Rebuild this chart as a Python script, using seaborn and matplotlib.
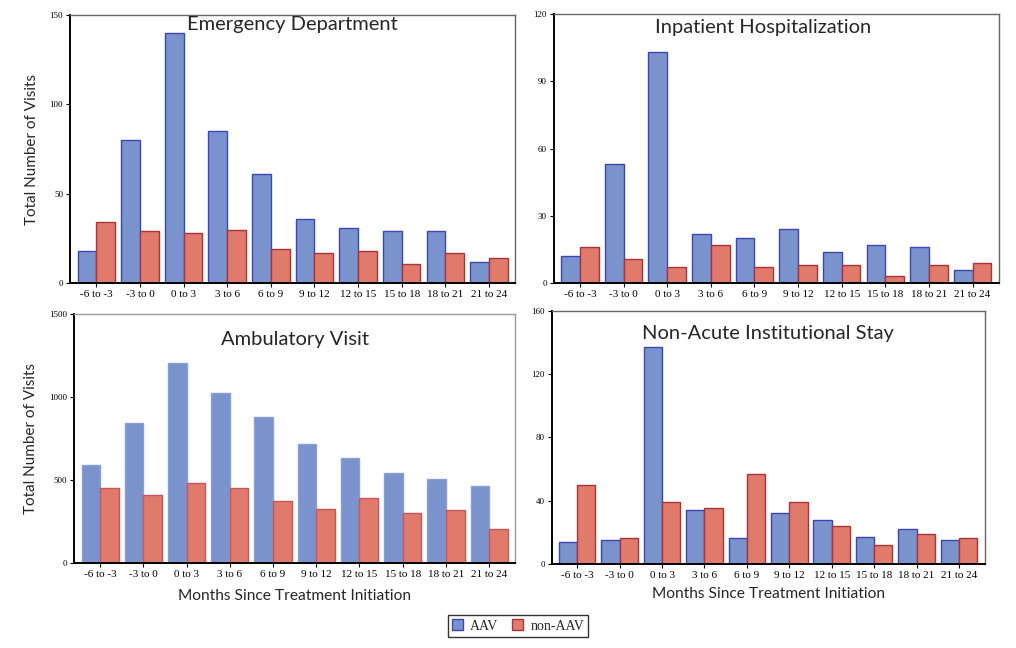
import matplotlib
matplotlib.use("Agg")
import matplotlib.pyplot as plt
import pandas as pd
import seaborn as sns
from matplotlib.patches import Patch

periods = ["-6 to -3", "-3 to 0", "0 to 3", "3 to 6", "6 to 9",
           "9 to 12", "12 to 15", "15 to 18", "18 to 21", "21 to 24"]
groups = ["AAV", "non-AAV"]

ed_aav = [18, 80, 140, 85, 61, 36, 31, 29, 29, 12]
ed_non = [34, 29, 28, 30, 19, 17, 18, 11, 17, 14]
ih_aav = [12, 53, 103, 22, 20, 24, 14, 17, 16, 6]
ih_non = [16, 11, 7, 17, 7, 8, 8, 3, 8, 9]
av_aav = [593, 846, 1208, 1027, 880, 717, 632, 546, 507, 463]
av_non = [452, 410, 483, 454, 375, 324, 391, 300, 318, 208]
na_aav = [14, 15, 137, 34, 16, 32, 28, 17, 22, 15]
na_non = [50, 16, 39, 35, 57, 39, 24, 12, 19, 16]

panels = [
    ("Emergency Department", ed_aav, ed_non, [0, 50, 100, 150], 150),
    ("Inpatient Hospitalization", ih_aav, ih_non, [0, 30, 60, 90, 120], 120),
    ("Ambulatory Visit", av_aav, av_non, [0, 500, 1000, 1500], 1500),
    ("Non-Acute Institutional Stay", na_aav, na_non, [0, 40, 80, 120, 160], 160),
]

# axes rectangles in figure fraction (composite layout)
rects = [
    [0.069, 0.563, 0.438, 0.414],
    [0.545, 0.563, 0.438, 0.415],
    [0.073, 0.131, 0.434, 0.384],
    [0.543, 0.130, 0.426, 0.390],
]
title_y = [0.966, 0.952, 0.90, 0.913]
title_x = [0.5, 0.47, 0.5, 0.5]
xlabel_pad = [3, 3, 7, 5]

fill = {"AAV": "#7b93cd", "non-AAV": "#e07a6b"}
edge = {"AAV": "#3b45b5", "non-AAV": "#a8343a"}
# the ambulatory panel has soft edges in the source
edge_soft = {"AAV": "#8a9fd6", "non-AAV": "#c8555a"}

sns.set_style("white")
plt.rcParams["font.family"] = ["Lato", "DejaVu Sans"]

fig = plt.figure(figsize=(10.16, 6.48), dpi=100)

for i, (title, aav, non, yticks, ymax) in enumerate(panels):
    ax = fig.add_axes(rects[i])
    df = pd.DataFrame({
        "Period": periods * 2,
        "Group": ["AAV"] * len(periods) + ["non-AAV"] * len(periods),
        "Visits": aav + non,
    })
    sns.barplot(data=df, x="Period", y="Visits", hue="Group", order=periods,
                hue_order=groups, palette=fill, width=0.86, saturation=1,
                legend=False, ax=ax)
    ecol = edge_soft if i == 2 else edge
    for cont, g in zip(ax.containers, groups):
        for bar in cont:
            bar.set_edgecolor(ecol[g])
            bar.set_linewidth(1.0)
    ax.set_xlim(-0.6, 9.6)
    ax.set_ylim(0, ymax)
    ax.set_yticks(yticks)
    ax.set_yticklabels([str(t) for t in yticks], family="Liberation Serif", fontsize=6.5)
    ax.set_xticks(range(len(periods)))
    ax.set_xticklabels(periods, family="Liberation Serif", fontsize=8)
    ax.tick_params(axis="both", direction="out", length=3, width=0.8,
                   bottom=True, left=True, pad=2, colors="black")
    for s in ["left", "bottom"]:
        ax.spines[s].set_color("black")
        ax.spines[s].set_linewidth(1.4)
    for s in ["top", "right"]:
        ax.spines[s].set_color("#999999" if i == 2 else "#666666")
        ax.spines[s].set_linewidth(1.0)
    ax.text(title_x[i], title_y[i], title, transform=ax.transAxes,
            ha="center", va="center", fontsize=14.5)
    ax.set_xlabel("Months Since Treatment Initiation" if i >= 2 else "",
                  fontsize=11.2, labelpad=xlabel_pad[i])
    ax.set_ylabel("Total Number of Visits" if i % 2 == 0 else "", fontsize=11, labelpad=8)

handles = [Patch(facecolor=fill[g], edgecolor=edge[g], label=g) for g in groups]
leg = fig.legend(handles=handles, loc="center", bbox_to_anchor=(0.51, 0.034), ncol=2,
                 frameon=True, fancybox=False, handlelength=0.8, handleheight=0.8,
                 handletextpad=0.5, columnspacing=1.0, borderpad=0.3,
                 prop={"family": "Liberation Serif", "size": 10})
leg.get_frame().set_edgecolor("black")
leg.get_frame().set_linewidth(1.0)

fig.savefig("out.png", dpi=100)
